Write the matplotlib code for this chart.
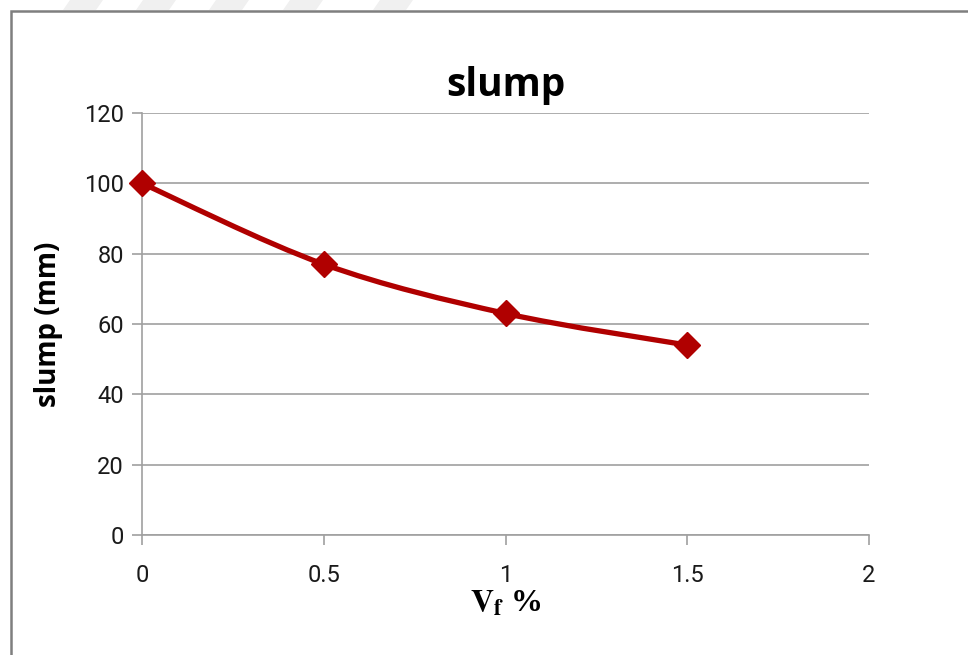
import numpy as np
import matplotlib.pyplot as plt
from matplotlib.path import Path
from matplotlib.patches import PathPatch, Rectangle, Polygon

plt.rcParams['mathtext.fontset'] = 'stix'

# data
vf = [0, 0.5, 1, 1.5]
slump = [100, 77, 63, 54]
x_ticks = [0, 0.5, 1, 1.5, 2]
x_tick_labels = ['0', '0.5', '1', '1.5', '2']
y_ticks = [0, 20, 40, 60, 80, 100, 120]

red = '#b00000'
grid_col = '#a0a0a0'
tick_font = ['Roboto', 'DejaVu Sans']


def smooth_path(xs, ys):
    # Catmull-Rom style bezier through the data points (like a smoothed excel line)
    pts = np.column_stack([xs, ys]).astype(float)
    ext = np.vstack([pts[0], pts, pts[-1]])
    verts = [pts[0]]
    codes = [Path.MOVETO]
    for i in range(len(pts) - 1):
        p0, p1, p2, p3 = ext[i], ext[i + 1], ext[i + 2], ext[i + 3]
        verts += [p1 + (p2 - p0) / 6.0, p2 - (p3 - p1) / 6.0, p2]
        codes += [Path.CURVE4] * 3
    return Path(verts, codes)


W, H = 968, 655
fig = plt.figure(figsize=(W / 100, H / 100), dpi=100)

# faint watermark shapes along the top edge (pixel positions)
for x0 in [70, 143, 216, 290, 380]:
    fig.patches.append(Polygon([(x0 / W, 1.0), ((x0 + 33) / W, 1.0), ((x0 + 26) / W, 1 - 10 / H),
                                ((x0 - 7) / W, 1 - 10 / H)],
                               closed=True, transform=fig.transFigure, facecolor='#f0f0f0',
                               edgecolor='none', zorder=-2))

# outer chart frame
fig.patches.append(Rectangle((11 / W, -0.01), 1.0, 1 - 11 / H + 0.01, transform=fig.transFigure,
                             facecolor='none', edgecolor='#7f7f7f', linewidth=1.8, zorder=-1))

ax = fig.add_axes([142 / W, 120 / H, 727 / W, 422 / H])
ax.set_facecolor('none')

ax.set_xlim(0, 2)
ax.set_ylim(0, 120)
ax.set_xticks(x_ticks)
ax.set_xticklabels(x_tick_labels)
ax.set_yticks(y_ticks)

ax.grid(axis='y', color=grid_col, linewidth=1.2)
ax.set_axisbelow(True)
for s in ['top', 'right']:
    ax.spines[s].set_visible(False)
for s in ['left', 'bottom']:
    ax.spines[s].set_color(grid_col)
    ax.spines[s].set_linewidth(1.2)

ax.tick_params(axis='both', direction='out', length=7, width=1.2, color=grid_col,
               labelsize=17, labelcolor='#1a1a1a')
ax.tick_params(axis='x', pad=14)
ax.tick_params(axis='y', pad=6)
for lab in ax.get_xticklabels() + ax.get_yticklabels():
    lab.set_family(tick_font)

ax.add_patch(PathPatch(smooth_path(vf, slump), transform=ax.transData, facecolor='none',
                       edgecolor=red, linewidth=3.8, zorder=3, clip_on=False))
ax.plot(vf, slump, linestyle='none', marker='D', markersize=13, color=red, zorder=4, clip_on=False)

ax.set_title('slump', fontsize=28, fontweight='bold', family=['Open Sans', 'DejaVu Sans'], pad=12)
ax.set_ylabel('slump (mm)', fontsize=20, fontweight='bold', family=['Open Sans', 'DejaVu Sans'])
ax.yaxis.set_label_coords((63 - 142) / 727, 0.5)
ax.set_xlabel(r'$\mathbf{V}_{\mathbf{f}}$ %', fontsize=23, fontweight='bold',
              family=['Liberation Serif', 'DejaVu Serif'], labelpad=2)

fig.savefig('out.png', dpi=100)
